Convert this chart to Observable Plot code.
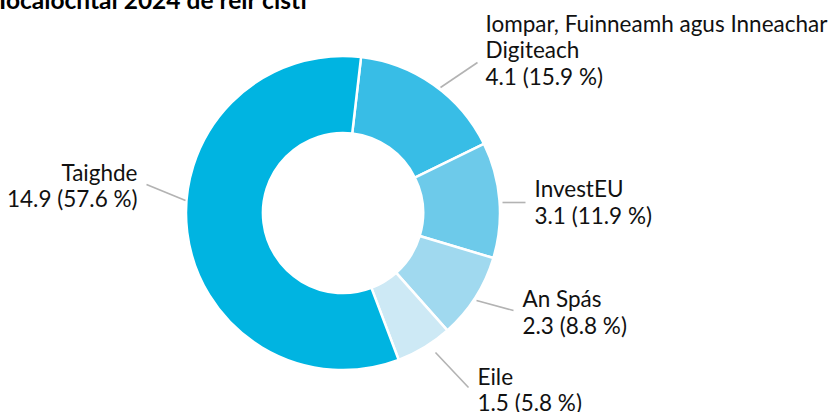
<!DOCTYPE html>
<html><head><meta charset="utf-8">
<script src="https://cdn.jsdelivr.net/npm/d3@7"></script>
<script src="https://cdn.jsdelivr.net/npm/@observablehq/plot@0.6"></script>
<style>
body{margin:0;background:#fff;overflow:hidden;}
#wrap{position:relative;width:840px;height:412px;}
#title{position:absolute;left:-1px;top:-12px;font:bold 24.5px/24px Lato;white-space:nowrap;color:#000;z-index:2}
#chart{position:absolute;left:0;top:0}
</style></head><body><div id="wrap"><div id="title">Íocaíochtaí 2024 de réir cistí</div><div id="chart"></div></div>
<script>
// ---- data ----
const categories = ["Iompar, Fuinneamh agus Inneachar Digiteach", "InvestEU", "An Spás", "Eile", "Taighde"];
const values = [4.1, 3.1, 2.3, 1.5, 14.9];
const shares = [15.9, 11.9, 8.8, 5.8, 57.6];

// ---- styles / layout ----
const colors = ["#38bde6", "#6dcaea", "#a0d9ef", "#cde9f5", "#00b4e1"];
const nameLines = ["Iompar, Fuinneamh agus Inneachar\nDigiteach", "InvestEU", "An Spás", "Eile", "Taighde"];
const CX = 343, CY = 213, R = 157, W = 840, H = 412;
const rotation = 6.6 * Math.PI / 180;
// label anchor (px) and leader line (px)
const labelPos = [[485, 49.5, "start"], [534, 201.5, "start"], [522, 311.5, "start"], [477, 389, "start"], [137, 185, "end"]];
const leaders = [[440, 87, 477, 62], [502, 202, 525, 202], [476, 300, 513, 310], [435, 352, 468, 387], [185, 200, 146, 184]];

const u = (px) => (px - CX) / R, v = (py) => (py - CY) / R;

const rows = categories.map((c, i) => ({
  name: c, value: values[i], share: shares[i],
  label: nameLines[i] + "\n" + values[i].toFixed(1) + " (" + shares[i].toFixed(1) + " %)",
  lx: u(labelPos[i][0]), ly: v(labelPos[i][1]), anchor: labelPos[i][2],
  x1: u(leaders[i][0]), y1: v(leaders[i][1]), x2: u(leaders[i][2]), y2: v(leaders[i][3]),
  color: colors[i]
}));

const arcs = d3.pie().sort(null).value(d => d.share)
  .startAngle(rotation).endAngle(rotation + 2 * Math.PI)(rows);

const donut = (index, scales) => {
  const cx = scales.x(0), cy = scales.y(0), r = scales.x(1) - scales.x(0);
  const arc = d3.arc().innerRadius(r * 0.51).outerRadius(r);
  const g = d3.create("svg:g").attr("transform", `translate(${cx},${cy})`);
  g.selectAll("path").data(arcs).join("path")
    .attr("d", arc).attr("fill", d => d.data.color)
    .attr("stroke", "#fff").attr("stroke-width", 2.5).attr("stroke-linejoin", "round");
  return g.node();
};

const FS = 22.5;
const plot = Plot.plot({
  width: W, height: H,
  margin: 0,
  x: {domain: [u(0), u(W)], range: [0, W], axis: null},
  y: {domain: [v(0), v(H)], range: [0, H], axis: null},
  style: {fontFamily: "Lato, sans-serif", fontSize: FS + "px", background: "#fff", overflow: "visible"},
  marks: [
    donut,
    Plot.link(rows, {x1: "x1", y1: "y1", x2: "x2", y2: "y2", stroke: "#b3b3b3", strokeWidth: 1.6}),
    Plot.text(rows.filter(d => d.anchor === "start"), {x: "lx", y: "ly", text: "label", textAnchor: "start", lineAnchor: "middle", lineHeight: 26.5 / FS, fill: "#111", fontSize: FS}),
    Plot.text(rows.filter(d => d.anchor === "end"), {x: "lx", y: "ly", text: "label", textAnchor: "end", lineAnchor: "middle", lineHeight: 26.5 / FS, fill: "#111", fontSize: FS})
  ]
});
document.getElementById("chart").appendChild(plot);
</script>
</body></html>
